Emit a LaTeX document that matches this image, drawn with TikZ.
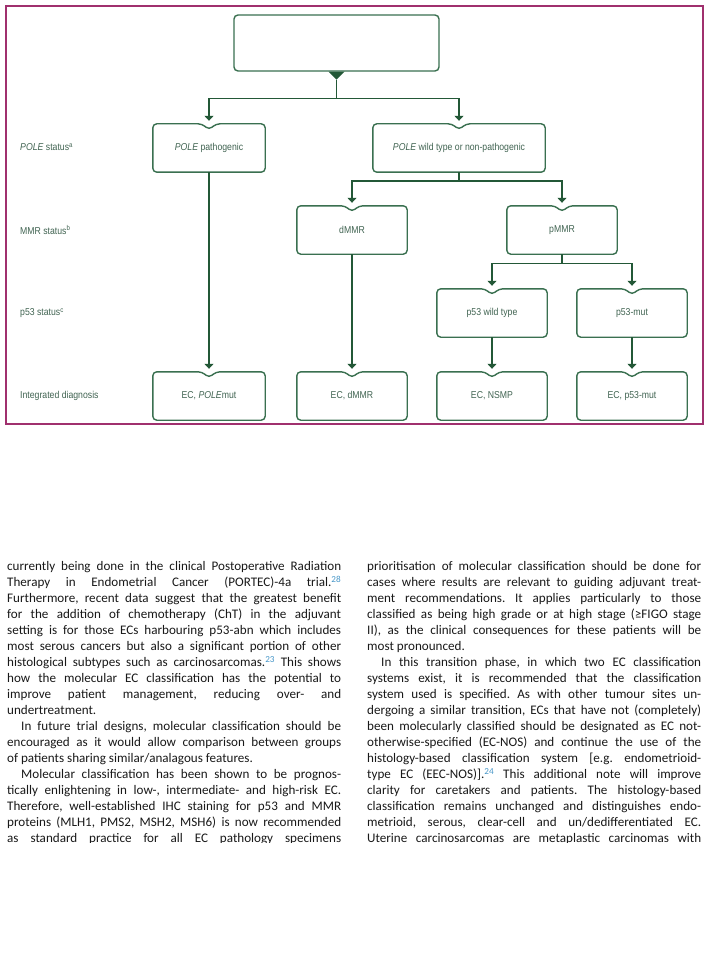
\documentclass[tikz,border=0pt]{standalone}
\usepackage{fontspec}
\setmainfont{Carlito}
\newfontfamily\narrowfont[FakeStretch=0.87]{Liberation Sans}
\usetikzlibrary{arrows.meta}
\definecolor{frameC}{RGB}{160,48,110}
\definecolor{boxC}{RGB}{58,112,80}
\definecolor{lineC}{RGB}{35,88,55}
\definecolor{lblC}{RGB}{65,100,82}
\definecolor{citeC}{RGB}{70,150,200}
\definecolor{bodyC}{RGB}{25,25,25}
\newcommand\notchoutline[1]{%
  \draw[boxline] ([xshift=7pt]#1.north) -- (#1.north east) -- (#1.south east)
    -- (#1.south west) -- (#1.north west) -- ([xshift=-7pt]#1.north)
    -- ([yshift=-6pt]#1.north) -- cycle;}
\newcommand\cit[1]{\textsuperscript{\color{citeC}#1}}
\tikzset{
  nbox/.style={rectangle, minimum height=48pt, inner sep=0pt,
    font=\narrowfont\fontsize{10}{12}\selectfont, text=lblC},
  rowlabel/.style={anchor=west, inner sep=0pt,
    font=\narrowfont\fontsize{10}{12}\selectfont, text=lblC},
  conn/.style={draw=lineC, line width=1.4pt, -{Triangle[width=9pt,length=5pt]}},
  boxline/.style={draw=boxC, line width=1.4pt, rounded corners=4pt},
  bodytext/.style={anchor=north west, inner sep=0pt, text width=334pt,
    align=justify, font=\fontsize{13.1}{16}\selectfont, text=bodyC}
}
\begin{document}
\begin{tikzpicture}[x=1pt,y=-1pt]
\useasboundingbox (0,0) rectangle (720,960);
\fill[white] (0,0) rectangle (720,960);
% frame
\draw[frameC, line width=2pt] (6,6) rectangle (703,424);
% top box
\node[rectangle, minimum width=205pt, minimum height=56pt, inner sep=0pt,
  draw=boxC, line width=1.4pt, rounded corners=4pt] (top) at (336.5,43) {};
\fill[lineC] ([xshift=-8pt]top.south) -- ([xshift=8pt]top.south)
  -- ([yshift=-8pt]top.south) -- cycle;
% row labels
\node[rowlabel] (l1) at (20,147) {\textit{POLE} status\textsuperscript{a}};
\node[rowlabel] (l2) at (20,230) {MMR status\textsuperscript{b}};
\node[rowlabel] (l3) at (20,313) {p53 status\textsuperscript{c}};
\node[rowlabel] (l4) at (20,396) {Integrated diagnosis};
% boxes
\node[nbox, minimum width=112pt] (pp) at (209,148) {\textit{POLE} pathogenic};
\node[nbox, minimum width=172pt] (pw) at (459,148) {\textit{POLE} wild type or non-pathogenic};
\node[nbox, minimum width=110pt] (dm) at (352,230) {dMMR};
\node[nbox, minimum width=110pt] (pm) at (562,230) {pMMR};
\node[nbox, minimum width=110pt] (pw53) at (492,313) {p53 wild type};
\node[nbox, minimum width=110pt] (pmut) at (632,313) {p53-mut};
\node[nbox, minimum width=112pt] (d1) at (209,396) {EC, \textit{POLE}mut};
\node[nbox, minimum width=110pt] (d2) at (352,396) {EC, dMMR};
\node[nbox, minimum width=110pt] (d3) at (492,396) {EC, NSMP};
\node[nbox, minimum width=110pt] (d4) at (632,396) {EC, p53-mut};
\foreach \n in {pp,pw,dm,pm,pw53,pmut,d1,d2,d3,d4} {\notchoutline{\n}}
% connectors
\draw[conn] ([yshift=-8pt]top.south) -- ++(0,19) -| ([yshift=3pt]pp.north);
\draw[conn] ([yshift=-8pt]top.south) -- ++(0,19) -| ([yshift=3pt]pw.north);
\draw[conn] (pw.south) -- ++(0,9) -| ([yshift=3pt]dm.north);
\draw[conn] (pw.south) -- ++(0,9) -| ([yshift=3pt]pm.north);
\draw[conn] (pm.south) -- ++(0,9) -| ([yshift=3pt]pw53.north);
\draw[conn] (pm.south) -- ++(0,9) -| ([yshift=3pt]pmut.north);
\draw[conn] (pp.south) -- ([yshift=3pt]d1.north);
\draw[conn] (dm.south) -- ([yshift=3pt]d2.north);
\draw[conn] (pw53.south) -- ([yshift=3pt]d3.north);
\draw[conn] (pmut.south) -- ([yshift=3pt]d4.north);
% body text
\begin{scope}
\clip (0,548) rectangle (720,842.5);
\node[bodytext] (colL) at (7,561.5) {\frenchspacing\tolerance=10000 \hyphenpenalty=10000
currently being done in the clinical Postoperative Radiation\linebreak
Therapy in Endometrial Cancer (PORTEC)-4a trial.\cit{28}\linebreak
Furthermore, recent data suggest that the greatest benefit\linebreak
for the addition of chemotherapy (ChT) in the adjuvant\linebreak
setting is for those ECs harbouring p53-abn which includes\linebreak
most serous cancers but also a significant portion of other\linebreak
histological subtypes such as carcinosarcomas.\cit{23} This shows\linebreak
how the molecular EC classification has the potential to\linebreak
improve patient management, reducing over- and\linebreak
undertreatment.\par
\hspace*{14pt}In future trial designs, molecular classification should be\linebreak
encouraged as it would allow comparison between groups\linebreak
of patients sharing similar/analagous features.\par
\hspace*{14pt}Molecular classification has been shown to be prognos-\linebreak
tically enlightening in low-, intermediate- and high-risk EC.\linebreak
Therefore, well-established IHC staining for p53 and MMR\linebreak
proteins (MLH1, PMS2, MSH2, MSH6) is now recommended\linebreak
as standard practice for all EC pathology specimens\linebreak
};
\node[bodytext] (colR) at (367,561.5) {\frenchspacing\tolerance=10000 \hyphenpenalty=10000
prioritisation of molecular classification should be done for\linebreak
cases where results are relevant to guiding adjuvant treat-\linebreak
ment recommendations. It applies particularly to those\linebreak
classified as being high grade or at high stage (≥FIGO stage\linebreak
II), as the clinical consequences for these patients will be\linebreak
most pronounced.\par
\hspace*{14pt}In this transition phase, in which two EC classification\linebreak
systems exist, it is recommended that the classification\linebreak
system used is specified. As with other tumour sites un-\linebreak
dergoing a similar transition, ECs that have not (completely)\linebreak
been molecularly classified should be designated as EC not-\linebreak
otherwise-specified (EC-NOS) and continue the use of the\linebreak
histology-based classification system [e.g. endometrioid-\linebreak
type EC (EEC-NOS)].\cit{24} This additional note will improve\linebreak
clarity for caretakers and patients. The histology-based\linebreak
classification remains unchanged and distinguishes endo-\linebreak
metrioid, serous, clear-cell and un/dedifferentiated EC.\linebreak
Uterine carcinosarcomas are metaplastic carcinomas with\linebreak
};
\end{scope}
\end{tikzpicture}
\end{document}
